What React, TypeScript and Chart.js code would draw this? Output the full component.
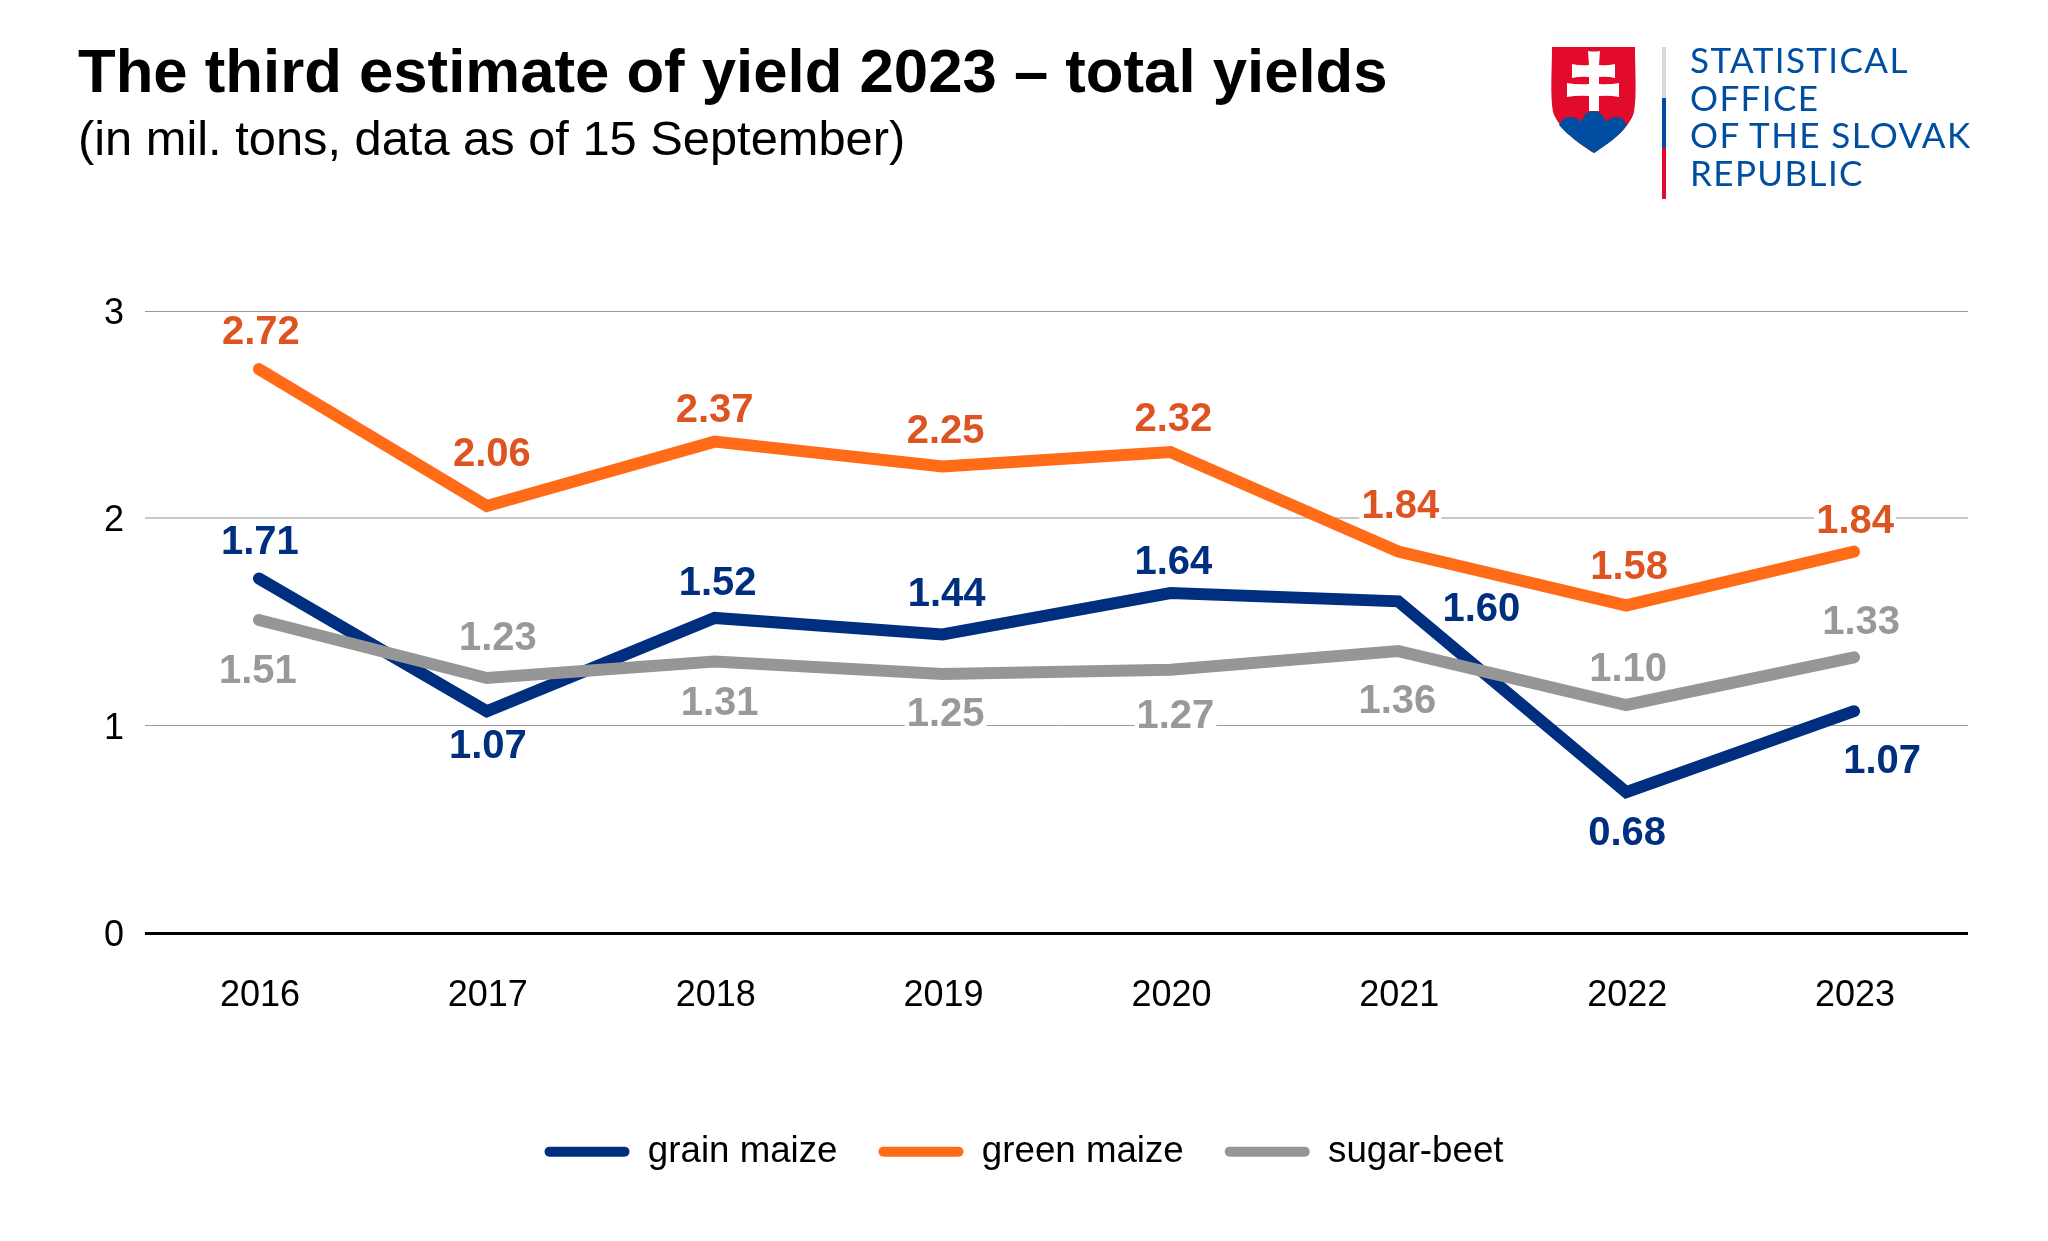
import React, { useEffect, useRef } from "react";
import { Chart, registerables } from "chart.js";

Chart.register(...registerables);

const years = ["2016", "2017", "2018", "2019", "2020", "2021", "2022", "2023"];
const grainMaize = [1.71, 1.07, 1.52, 1.44, 1.64, 1.6, 0.68, 1.07];
const greenMaize = [2.72, 2.06, 2.37, 2.25, 2.32, 1.84, 1.58, 1.84];
const sugarBeet = [1.51, 1.23, 1.31, 1.25, 1.27, 1.36, 1.1, 1.33];

// Label nudges relative to each point (px), as [dx, dy]
const grainNudge = [[1, -36], [1, 36], [3, -34], [4, -40], [3, -30], [83, 9], [1, 42], [28, 51]];
const greenNudge = [[2, -36], [5, -51], [0, -31], [3, -35], [3, -32], [2, -45], [3, -37], [1, -30]];
const sugarNudge = [[-1, 52], [11, -39], [5, 43], [3, 41], [5, 47], [-1, 51], [2, -35], [7, -34]];

const FONT = '"Liberation Sans", Arial, sans-serif';

const labelSets = [
  { i: 0, nudge: grainNudge, color: "#002F80" },
  { i: 1, nudge: greenNudge, color: "#DD5422" },
  { i: 2, nudge: sugarNudge, color: "#999999" },
];

function eachLabel(chart: any, fn: (text: string, x: number, y: number, color: string) => void) {
  for (const s of labelSets) {
    const meta = chart.getDatasetMeta(s.i);
    const values = chart.data.datasets[s.i].data as number[];
    meta.data.forEach((pt: any, j: number) => {
      fn(values[j].toFixed(2), pt.x + s.nudge[j][0], pt.y + s.nudge[j][1], s.color);
    });
  }
}

const labelPlugin = {
  id: "valueLabels",
  beforeDatasetsDraw(chart: any) {
    const { ctx } = chart;
    ctx.save();
    ctx.font = `bold 40px ${FONT}`;
    ctx.fillStyle = "#ffffff";
    eachLabel(chart, (text, x, y) => {
      const w = ctx.measureText(text).width;
      ctx.fillRect(x - w / 2 - 2, y - 16, w + 4, 32);
    });
    ctx.restore();
  },
  afterDatasetsDraw(chart: any) {
    const { ctx } = chart;
    ctx.save();
    ctx.textAlign = "center";
    ctx.textBaseline = "middle";
    ctx.font = `bold 40px ${FONT}`;
    eachLabel(chart, (text, x, y, color) => {
      ctx.fillStyle = color;
      ctx.fillText(text, x, y);
    });
    ctx.restore();
  },
};

export default function App() {
  const ref = useRef<HTMLCanvasElement>(null);
  useEffect(() => {
    document.body.style.margin = "0";
    document.body.style.overflow = "hidden";
    const chart = new Chart(ref.current!, {
      type: "line",
      plugins: [labelPlugin],
      data: {
        labels: years,
        datasets: [
          { label: "grain maize", data: grainMaize, borderColor: "#002F80", backgroundColor: "#002F80", order: 2 },
          { label: "green maize", data: greenMaize, borderColor: "#FF6B17", backgroundColor: "#FF6B17", order: 1 },
          { label: "sugar-beet", data: sugarBeet, borderColor: "#969696", backgroundColor: "#969696", order: 0 },
        ].map((d) => ({
          ...d,
          yAxisID: "y",
          borderWidth: 12,
          pointRadius: 0,
          tension: 0,
          borderCapStyle: "round" as const,
          borderJoinStyle: "miter" as const,
        })),
      },
      options: {
        animation: false,
        responsive: false,
        layout: { padding: { top: 311, left: 0, right: 0, bottom: 61 } },
        plugins: {
          tooltip: { enabled: false },
          legend: {
            position: "bottom",
            labels: {
              font: { family: FONT, size: 36.7 },
              color: "#000000",
              boxWidth: 85,
              boxHeight: 10,
              useBorderRadius: true,
              borderRadius: 5,
              padding: 41,
              sort: (a: any, b: any) => a.datasetIndex - b.datasetIndex,
              generateLabels: (c: any) =>
                Chart.defaults.plugins.legend.labels
                  .generateLabels(c)
                  .map((l: any) => ({ ...l, lineWidth: 0, strokeStyle: "transparent" })),
            },
          },
        },
        scales: {
          x: {
            offset: true,
            grid: { display: false },
            border: { display: false },
            afterFit(scale: any) { scale.height += 42; },
            ticks: { font: { family: FONT, size: 36 }, color: "#000000", padding: 33, maxRotation: 0, labelOffset: 1 },
          },
          y: {
            min: 0,
            max: 3,
            afterFit(scale: any) { scale.width = 145; },
            border: { display: false },
            grid: {
              drawTicks: false,
              color: (c: any) => (c.tick.value === 0 ? "#000000" : c.tick.value === 2 ? "#c8c8c8" : "#999999"),
              lineWidth: (c: any) => (c.tick.value === 0 ? 3 : c.tick.value === 2 ? 2 : 1),
            },
            ticks: { stepSize: 1, font: { family: FONT, size: 36 }, color: "#000000", padding: 21, labelOffset: 3 },
          },
          rightMargin: {
            position: "right",
            grid: { display: false },
            border: { display: false },
            ticks: { display: false },
            afterFit(scale: any) { scale.width = 80; },
          },
        },
      },
    });
    return () => chart.destroy();
  }, []);

  return (
    <div style={{ position: "relative", width: 2048, height: 1241, background: "#fff", overflow: "hidden" }}>
      <canvas ref={ref} width={2048} height={1241} style={{ display: "block" }} />
      <div style={{ position: "absolute", left: 78, top: 36, fontFamily: FONT, fontWeight: "bold", fontSize: 61.7, lineHeight: "70px", color: "#000", whiteSpace: "nowrap" }}>
        The third estimate of yield 2023 – total yields
      </div>
      <div style={{ position: "absolute", left: 78, top: 111, fontFamily: FONT, fontSize: 48.8, lineHeight: "54px", color: "#000", whiteSpace: "nowrap" }}>
        (in mil. tons, data as of 15 September)
      </div>
      <svg width={500} height={200} viewBox="0 0 500 200" style={{ position: "absolute", left: 1500, top: 20 }}>
        <path d="M52 27 H135 C135 50 137 75 134 92 C130 108 108 124 94 133 C80 125 58 108 53 92 C50 75 52 50 52 27 Z" fill="#E30B2B" />
        <path d="M59 105 Q63 97 69 97 Q77 97 81 102 Q85 91 93 91 Q102 91 106 102 Q110 97 117 97 Q123 97 127 105 C120 116 106 125 94 133 C82 125 68 116 59 105 Z" fill="#004EA2" />
        <path d="M88 31 Q94 32 100 31 L99 45 Q107 46 115 44 V58 Q107 56 99 57 V64 Q109 65 119 63 V77 Q109 75 99 76 V91 H89 V76 Q78 75 67 77 V63 Q78 65 89 64 V57 Q81 56 72 58 V44 Q81 46 89 45 Z" fill="#ffffff" />
        <rect x={162} y={27} width={4} height={51} fill="#D9D9D9" />
        <rect x={162} y={78} width={4} height={50} fill="#004EA2" />
        <rect x={162} y={128} width={4} height={51} fill="#E30B2B" />
        <g fill="#004EA2" fontFamily="Lato, sans-serif" fontSize={35} letterSpacing={1.4}>
          <text x={190} y={52.7}>STATISTICAL</text>
          <text x={190} y={90.7}>OFFICE</text>
          <text x={190} y={128}>OF THE SLOVAK</text>
          <text x={190} y={166}>REPUBLIC</text>
        </g>
      </svg>
    </div>
  );
}
